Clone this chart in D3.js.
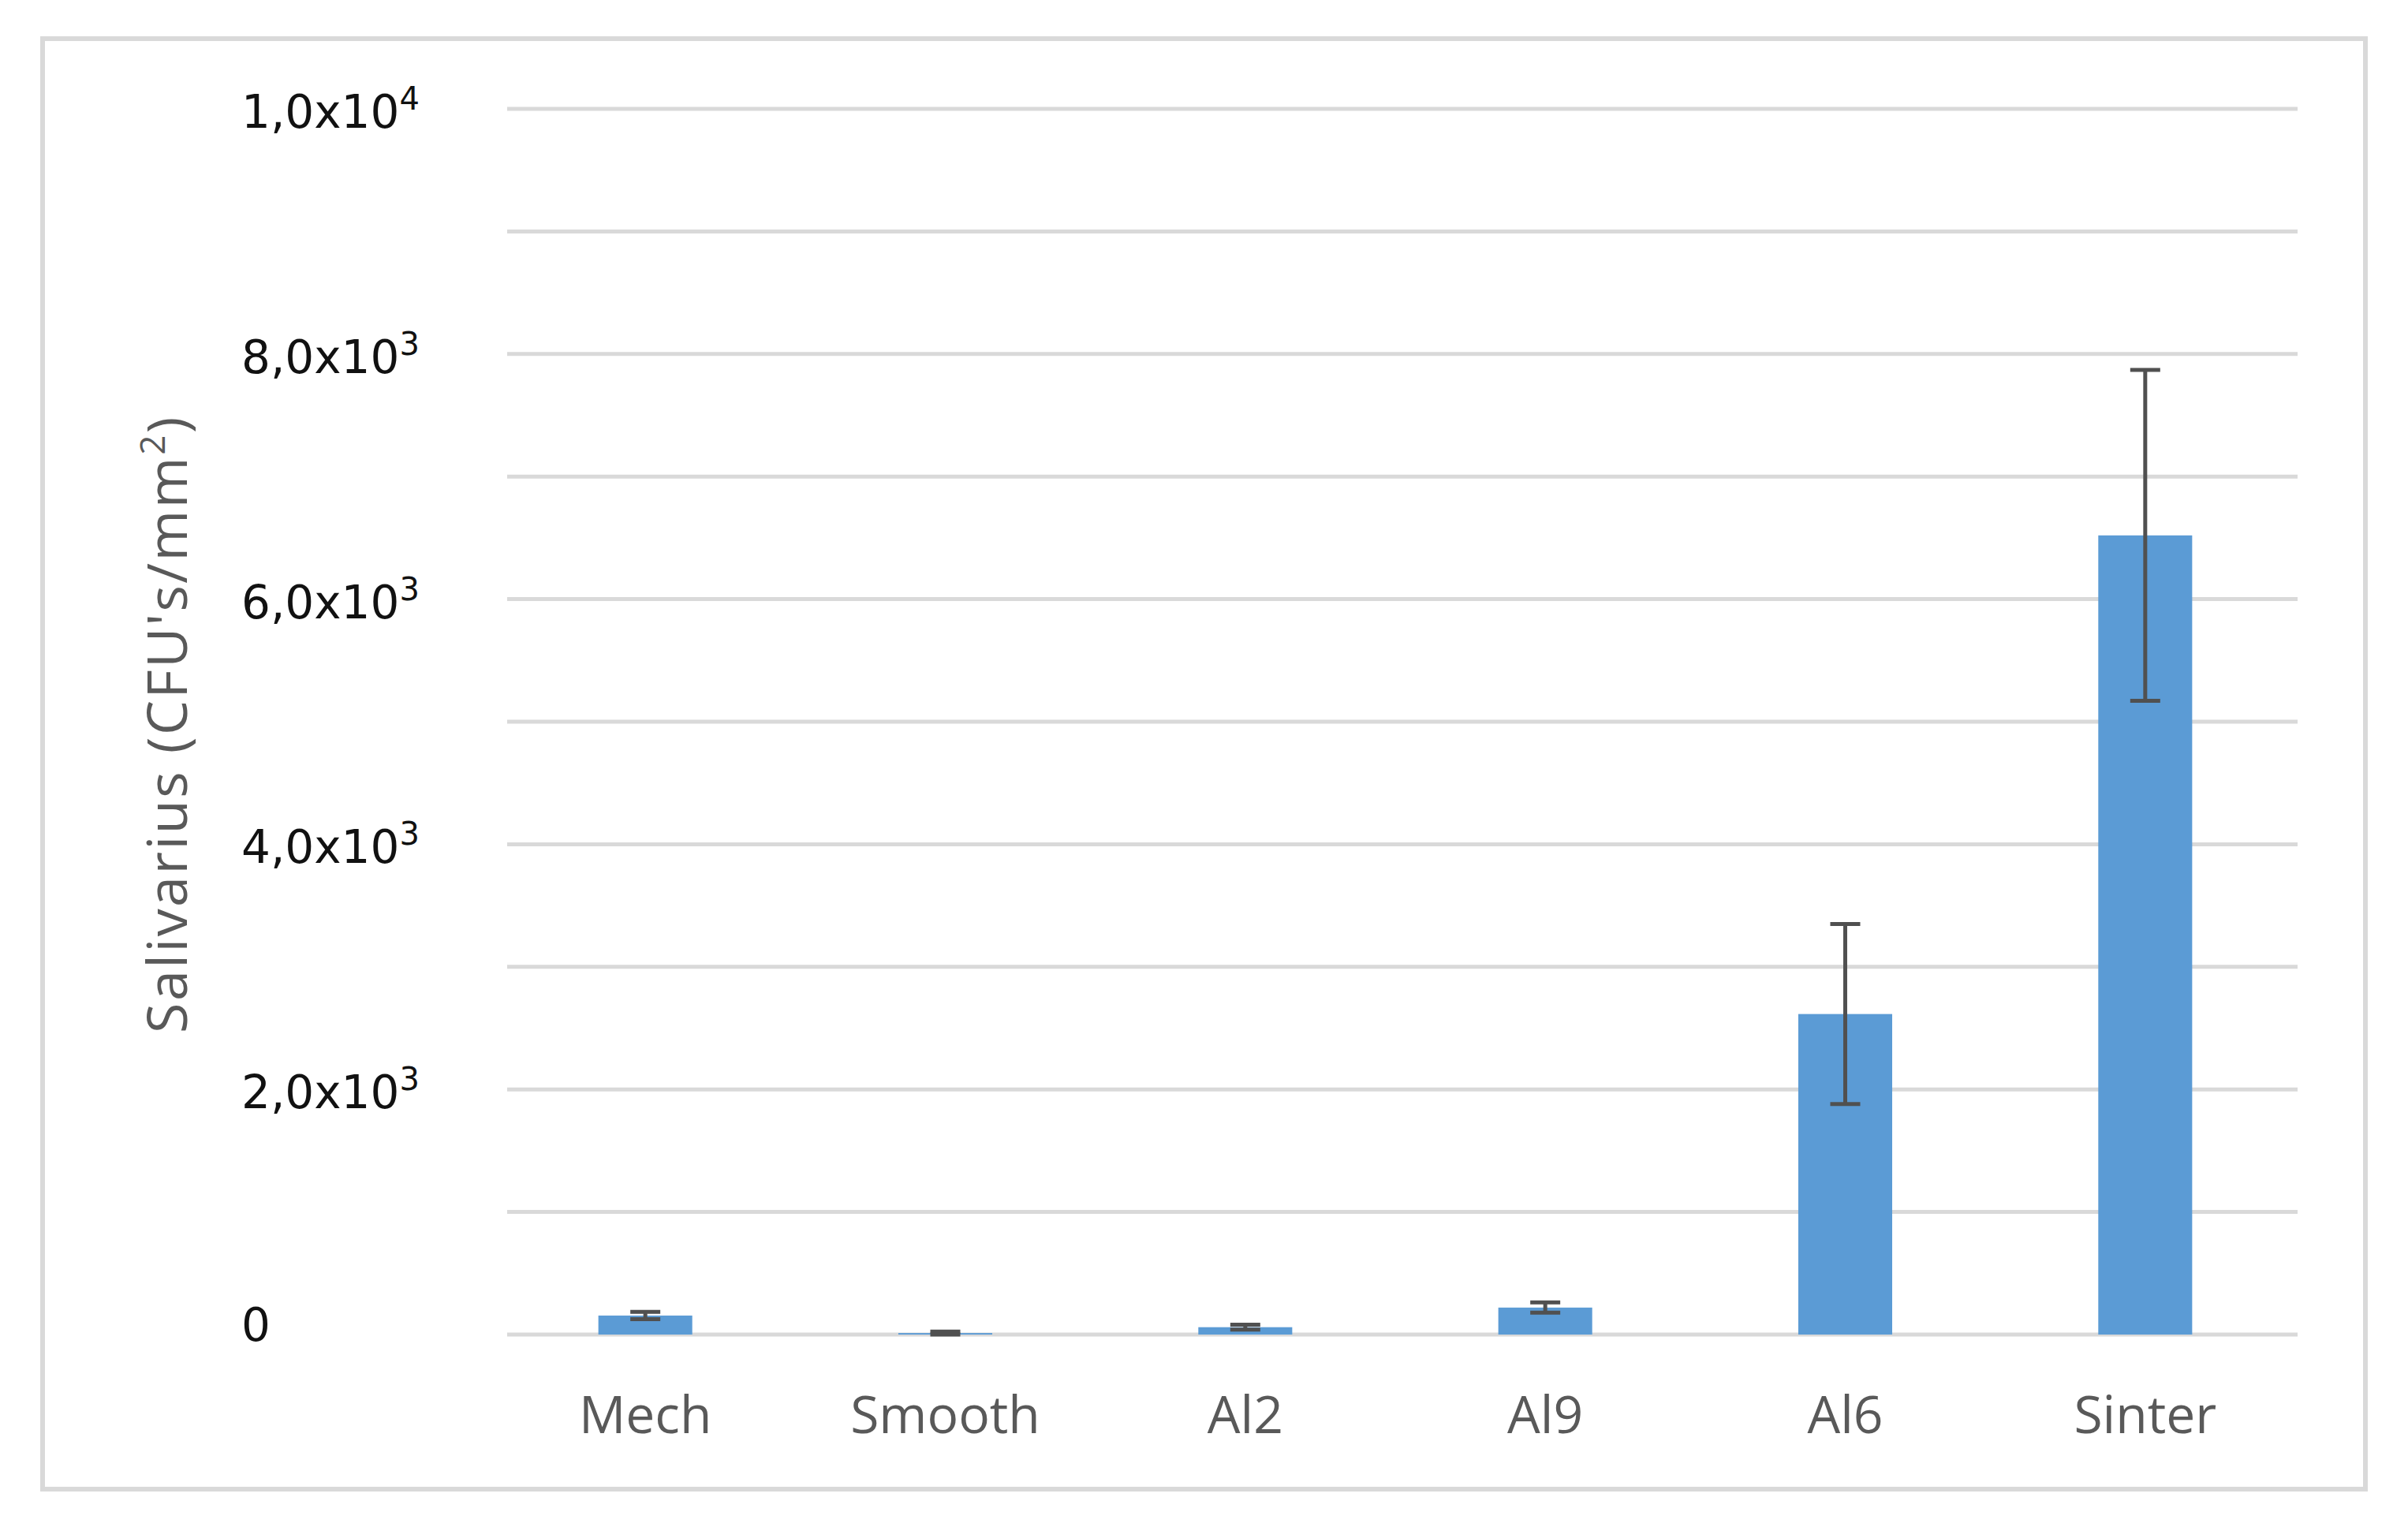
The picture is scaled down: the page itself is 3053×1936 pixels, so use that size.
<!DOCTYPE html>
<html><head><meta charset="utf-8">
<script src="https://cdn.jsdelivr.net/npm/d3@7"></script>
<style>html,body{margin:0;padding:0;background:#fff;}</style>
</head><body>
<svg id="chart" width="3053" height="1936"></svg>
<script>
// ---- data ----
const categories = ["Mech", "Smooth", "Al2", "Al9", "Al6", "Sinter"];
const means = [155, 12, 60, 220, 2615, 6520];
const errors = [30, 12, 20, 42, 735, 1350];
const gridValues = [0, 1000, 2000, 3000, 4000, 5000, 6000, 7000, 8000, 9000, 10000];
const tickValues = [0, 2000, 4000, 6000, 8000, 10000];
const tickMantissa = ["0", "2,0", "4,0", "6,0", "8,0", "1,0"];
const tickExponent = ["", "3", "3", "3", "3", "4"];
const yTitleMain = "Salivarius (CFU's/mm";
const yTitleSup = "2";
const yTitleEnd = ")";

// ---- layout ----
const svg = d3.select("#chart");
svg.append("rect").attr("x", 0).attr("y", 0).attr("width", 3053).attr("height", 1936).attr("fill", "#fff");
svg.append("rect")
  .attr("x", 54).attr("y", 49).attr("width", 2945).attr("height", 1839)
  .attr("fill", "#fff").attr("stroke", "#d9d9d9").attr("stroke-width", 6);

const y = d3.scaleLinear().domain([0, 10000]).range([1692, 138]);
const x = d3.scaleBand().domain(categories).range([628, 2910])
  .paddingInner(0.687).paddingOuter(0.3435);

const gridX0 = 643, gridX1 = 2913;

// gridlines
svg.append("g").selectAll("line").data(gridValues).join("line")
  .attr("x1", gridX0).attr("x2", gridX1)
  .attr("y1", d => y(d)).attr("y2", d => y(d))
  .attr("stroke", "#d9d9d9").attr("stroke-width", 5);

// y tick labels
const tl = svg.append("g").attr("font-family", "'DejaVu Sans', Verdana, sans-serif")
  .attr("font-size", 58).attr("fill", "#111");
tickValues.forEach((v, i) => {
  const t = tl.append("text").attr("x", 306)
    .attr("y", y(v) + (tickExponent[i] ? 24 : 8));
  if (tickExponent[i]) {
    t.append("tspan").text(tickMantissa[i] + "x10");
    t.append("tspan").attr("font-size", 40).attr("dy", -23).text(tickExponent[i]);
  } else {
    t.text(tickMantissa[i]);
  }
});

// bars
svg.append("g").selectAll("rect").data(categories).join("rect")
  .attr("x", d => x(d)).attr("width", x.bandwidth())
  .attr("y", (d, i) => y(means[i]))
  .attr("height", (d, i) => y(0) - y(means[i]))
  .attr("fill", "#5b9bd5");

// error bars
const eb = svg.append("g").attr("stroke", "#505050").attr("stroke-width", 5);
const capW = 38;
categories.forEach((c, i) => {
  const cx = x(c) + x.bandwidth() / 2;
  const yt = y(means[i] + errors[i]);
  const yb = y(Math.max(0, means[i] - errors[i]));
  eb.append("line").attr("x1", cx).attr("x2", cx).attr("y1", yt).attr("y2", yb);
  eb.append("line").attr("x1", cx - capW / 2).attr("x2", cx + capW / 2).attr("y1", yt).attr("y2", yt);
  eb.append("line").attr("x1", cx - capW / 2).attr("x2", cx + capW / 2).attr("y1", yb).attr("y2", yb);
});

// category labels
svg.append("g").selectAll("text").data(categories).join("text")
  .attr("x", d => x(d) + x.bandwidth() / 2).attr("y", 1817)
  .attr("text-anchor", "middle")
  .attr("font-family", "'Open Sans', sans-serif").attr("font-size", 66)
  .attr("fill", "#595959").text(d => d);

// y-axis title
const yt = svg.append("text")
  .attr("transform", "translate(237,918) rotate(-90)")
  .attr("text-anchor", "middle")
  .attr("font-family", "'Open Sans', sans-serif").attr("font-size", 70)
  .attr("letter-spacing", 2.5)
  .attr("fill", "#595959");
yt.append("tspan").text(yTitleMain);
yt.append("tspan").attr("font-size", 44).attr("dy", -28).text(yTitleSup);
yt.append("tspan").attr("dy", 28).text(yTitleEnd);
</script>
</body></html>
